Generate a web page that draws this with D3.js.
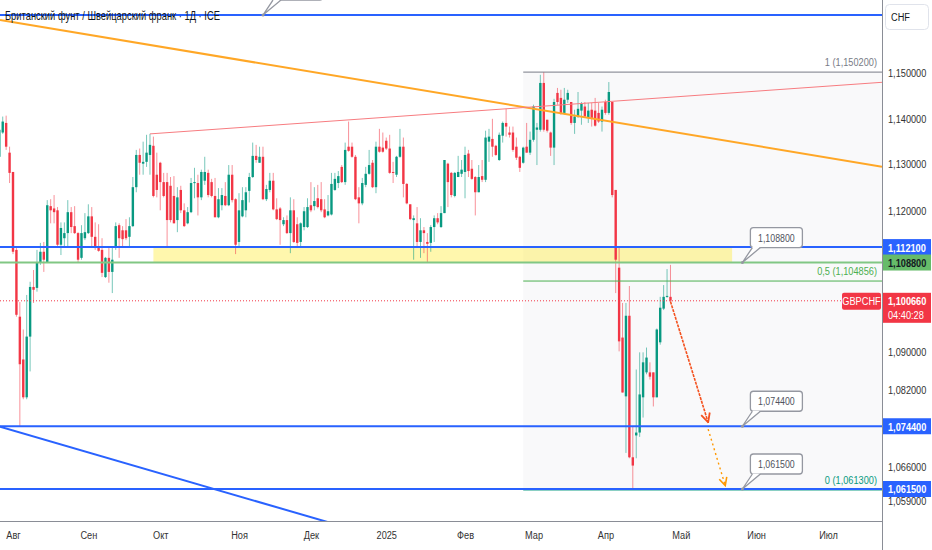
<!DOCTYPE html>
<html>
<head>
<meta charset="utf-8">
<script src="https://cdn.jsdelivr.net/npm/d3@7"></script>
<style>
  body { margin: 0; background: #fff; }
  svg { display: block; }
  text { font-family: "Liberation Sans", Arial, sans-serif; }
</style>
</head>
<body>
<div id="chart"></div>
<script>
// ---- data (GBPCHF daily) ----
const firstDay = "2024-07-26";
const opens = [
  1.1316,1.1369,1.1390,1.1325,1.1283,1.1115,1.0973,1.0883,1.0804,1.0931,
  1.1036,1.1034,1.1089,1.1111,1.1087,1.1209,1.1204,1.1200,1.1126,1.1140,
  1.1151,1.1196,1.1166,1.1151,1.1098,1.1140,1.1151,1.1187,1.1143,1.1119,
  1.1115,1.1057,1.1098,1.1068,1.1119,1.1168,1.1157,1.1157,1.1143,1.1166,
  1.1250,1.1320,1.1301,1.1305,1.1320,1.1340,1.1277,1.1303,1.1261,1.1261,
  1.1253,1.1231,1.1179,1.1244,1.1200,1.1172,1.1196,1.1259,1.1259,1.1228,
  1.1264,1.1281,1.1261,1.1231,1.1185,1.1211,1.1231,1.1211,1.1277,1.1224,
  1.1132,1.1187,1.1200,1.1242,1.1272,1.1318,1.1303,1.1316,1.1224,1.1244,
  1.1264,1.1202,1.1204,1.1170,1.1179,1.1151,1.1200,1.1170,1.1132,1.1164,
  1.1164,1.1211,1.1209,1.1226,1.1224,1.1202,1.1189,1.1191,1.1244,1.1259,
  1.1294,1.1261,1.1338,1.1338,1.1316,1.1228,1.1215,1.1255,1.1279,1.1303,
  1.1250,1.1338,1.1336,1.1351,1.1334,1.1283,1.1277,1.1316,1.1338,1.1257,
  1.1213,1.1179,1.1172,1.1132,1.1157,1.1132,1.1130,1.1164,1.1183,1.1164,
  1.1194,1.1301,1.1281,1.1231,1.1272,1.1279,1.1283,1.1323,1.1290,1.1272,
  1.1239,1.1274,1.1266,1.1349,1.1355,1.1340,1.1309,1.1362,1.1390,1.1369,
  1.1369,1.1338,1.1316,1.1303,1.1338,1.1325,1.1353,1.1375,1.1375,1.1478,
  1.1397,1.1369,1.1336,1.1456,1.1445,1.1412,1.1441,1.1436,1.1390,1.1404,
  1.1417,1.1426,1.1401,1.1419,1.1417,1.1412,1.1393,1.1436,1.1412,
  1.1436,1.1244,1.1077,1.0929,1.0806,1.0975,1.0680,1.0725,1.0731,1.0804,
  1.0856,1.0856,1.0856,1.0804,1.0919,1.0990,1.1015,1.1015
];
const highs = [
  1.1380,1.1404,1.1406,1.1338,1.1283,1.1119,1.1004,1.0946,1.1019,1.1047,
  1.1072,1.1115,1.1130,1.1132,1.1222,1.1224,1.1233,1.1207,1.1174,1.1174,
  1.1222,1.1207,1.1209,1.1153,1.1168,1.1194,1.1213,1.1207,1.1174,1.1170,
  1.1140,1.1100,1.1119,1.1121,1.1174,1.1172,1.1166,1.1181,1.1185,1.1272,
  1.1331,1.1334,1.1349,1.1364,1.1366,1.1360,1.1325,1.1305,1.1281,1.1281,
  1.1272,1.1274,1.1250,1.1253,1.1215,1.1207,1.1270,1.1292,1.1277,1.1288,
  1.1316,1.1288,1.1268,1.1270,1.1248,1.1248,1.1261,1.1298,1.1298,1.1226,
  1.1237,1.1250,1.1250,1.1281,1.1347,1.1342,1.1338,1.1338,1.1255,1.1281,
  1.1281,1.1226,1.1207,1.1185,1.1189,1.1228,1.1224,1.1185,1.1174,1.1207,
  1.1226,1.1261,1.1250,1.1255,1.1261,1.1224,1.1233,1.1281,1.1281,1.1285,
  1.1298,1.1347,1.1393,1.1347,1.1320,1.1250,1.1270,1.1294,1.1331,1.1309,
  1.1349,1.1377,1.1369,1.1358,1.1364,1.1305,1.1318,1.1377,1.1358,1.1259,
  1.1213,1.1189,1.1207,1.1183,1.1164,1.1151,1.1168,1.1189,1.1194,1.1209,
  1.1309,1.1303,1.1283,1.1283,1.1318,1.1309,1.1338,1.1331,1.1309,1.1274,
  1.1298,1.1309,1.1373,1.1377,1.1399,1.1342,1.1369,1.1393,1.1421,1.1382,
  1.1382,1.1358,1.1318,1.1338,1.1390,1.1371,1.1430,1.1390,1.1496,1.1502,
  1.1397,1.1371,1.1443,1.1467,1.1463,1.1467,1.1463,1.1436,1.1419,1.1458,
  1.1436,1.1436,1.1434,1.1434,1.1445,1.1434,1.1426,1.1441,1.1480,
  1.1436,1.1244,1.1119,1.1002,1.1002,1.1038,1.0744,1.0862,1.0898,1.0898,
  1.0908,1.0877,1.0856,1.0948,1.1015,1.1040,1.1074,1.1083
];
const lows = [
  1.1309,1.1366,1.1331,1.1259,1.1106,1.0973,1.0744,1.0800,1.0800,1.0858,
  1.1002,1.1026,1.1083,1.1068,1.1087,1.1172,1.1172,1.1121,1.1104,1.1121,
  1.1121,1.1151,1.1149,1.1087,1.1094,1.1136,1.1149,1.1119,1.1115,1.1111,
  1.1057,1.1055,1.1045,1.1023,1.1115,1.1098,1.1121,1.1136,1.1121,1.1164,
  1.1239,1.1277,1.1277,1.1294,1.1277,1.1228,1.1228,1.1200,1.1228,1.1121,
  1.1174,1.1172,1.1153,1.1194,1.1164,1.1170,1.1194,1.1226,1.1189,1.1222,
  1.1255,1.1228,1.1228,1.1185,1.1183,1.1200,1.1209,1.1209,1.1217,1.1106,
  1.1123,1.1185,1.1185,1.1217,1.1270,1.1303,1.1303,1.1222,1.1220,1.1239,
  1.1200,1.1179,1.1126,1.1166,1.1149,1.1108,1.1130,1.1119,1.1121,1.1157,
  1.1162,1.1196,1.1200,1.1204,1.1196,1.1183,1.1187,1.1189,1.1242,1.1248,
  1.1259,1.1255,1.1327,1.1314,1.1222,1.1172,1.1211,1.1250,1.1277,1.1248,
  1.1237,1.1325,1.1325,1.1331,1.1279,1.1259,1.1272,1.1314,1.1228,1.1213,
  1.1179,1.1094,1.1119,1.1098,1.1108,1.1087,1.1111,1.1132,1.1170,1.1162,
  1.1194,1.1207,1.1228,1.1228,1.1272,1.1272,1.1226,1.1272,1.1266,1.1189,
  1.1239,1.1261,1.1261,1.1305,1.1316,1.1318,1.1307,1.1347,1.1360,1.1358,
  1.1327,1.1309,1.1283,1.1301,1.1325,1.1320,1.1349,1.1298,1.1371,1.1371,
  1.1369,1.1318,1.1298,1.1430,1.1408,1.1408,1.1434,1.1386,1.1366,1.1401,
  1.1386,1.1404,1.1390,1.1382,1.1382,1.1390,1.1371,1.1408,1.1408,
  1.1228,1.1023,1.0900,1.0814,1.0689,1.0678,1.0613,1.0678,1.0722,1.0762,
  1.0852,1.0841,1.0785,1.0804,1.0914,1.0987,1.1013,1.1002
];
const closes = [
  1.1375,1.1393,1.1338,1.1281,1.1111,1.0977,1.0873,1.0804,1.0931,1.1036,
  1.1030,1.1089,1.1111,1.1094,1.1211,1.1200,1.1196,1.1126,1.1162,1.1151,
  1.1196,1.1164,1.1151,1.1094,1.1151,1.1153,1.1187,1.1143,1.1119,1.1113,
  1.1066,1.1098,1.1068,1.1094,1.1166,1.1140,1.1138,1.1140,1.1166,1.1250,
  1.1320,1.1303,1.1305,1.1325,1.1342,1.1231,1.1244,1.1261,1.1231,1.1179,
  1.1179,1.1172,1.1228,1.1200,1.1166,1.1196,1.1259,1.1261,1.1228,1.1283,
  1.1283,1.1233,1.1231,1.1185,1.1224,1.1233,1.1211,1.1277,1.1222,1.1126,
  1.1200,1.1222,1.1239,1.1272,1.1318,1.1309,1.1316,1.1224,1.1246,1.1264,
  1.1202,1.1181,1.1179,1.1179,1.1151,1.1200,1.1132,1.1130,1.1172,1.1198,
  1.1207,1.1200,1.1220,1.1207,1.1200,1.1185,1.1198,1.1257,1.1268,1.1274,
  1.1261,1.1331,1.1329,1.1316,1.1224,1.1215,1.1259,1.1279,1.1298,1.1250,
  1.1338,1.1327,1.1327,1.1334,1.1281,1.1281,1.1316,1.1338,1.1257,1.1215,
  1.1181,1.1183,1.1132,1.1157,1.1151,1.1128,1.1164,1.1183,1.1174,1.1194,
  1.1309,1.1261,1.1233,1.1281,1.1283,1.1288,1.1320,1.1285,1.1268,1.1239,
  1.1272,1.1266,1.1358,1.1360,1.1338,1.1320,1.1364,1.1390,1.1382,1.1364,
  1.1331,1.1314,1.1292,1.1336,1.1325,1.1353,1.1426,1.1380,1.1478,1.1375,
  1.1373,1.1336,1.1436,1.1436,1.1412,1.1441,1.1456,1.1390,1.1404,1.1421,
  1.1432,1.1404,1.1417,1.1401,1.1384,1.1393,1.1419,1.1412,1.1458,
  1.1233,1.1094,1.0921,1.0814,1.0975,1.0680,1.0663,1.0731,1.0810,1.0877,
  1.0887,1.0847,1.0804,1.0946,1.0992,1.1015,1.1017,1.1007
];

const monthStarts = ["2024-08-01","2024-09-02","2024-10-01","2024-11-01","2024-12-02","2025-01-01",
                     "2025-02-03","2025-03-03","2025-04-01","2025-05-01","2025-06-02","2025-07-01"];
const monthNames = ["Авг","Сен","Окт","Ноя","Дек","2025","Фев","Мар","Апр","Май","Июн","Июл"];
const priceTicks = [1.15, 1.14, 1.13, 1.12, 1.09, 1.082, 1.066, 1.059];

// horizontal levels drawn on the chart
const levelPrices = [1.1629, 1.1121, 1.1088, 1.0744, 1.0615];
const currentPrice = 1.10066;
const countdown = "04:40:28";
const zonePrices = [1.1121, 1.1088];          // yellow zone
const zoneDates = ["2024-09-27", "2025-05-22"];
const calloutDates = ["2024-11-12", "2025-05-27", "2025-05-27", "2025-05-27"];
const calloutPrices = [1.1629, 1.1088, 1.0744, 1.0615];
const fibStart = "2025-02-26";
const fibHigh = 1.1502, fibLow = 1.0613;
const fibLevels = [1, 0.5, 0];
// trend lines: [date, price] pairs
const orangeLine = [["2024-07-26", 1.1618], ["2025-07-01", 1.1314]];
const redLine = [["2024-09-26", 1.1366], ["2025-07-01", 1.1471]];
const blueDiag = [["2024-07-26", 1.07435], ["2024-12-02", 1.05576]];
const arrow1 = [["2025-04-28", 1.1005], ["2025-05-13", 1.0752]];
const arrow2 = [["2025-05-13", 1.0738], ["2025-05-20", 1.0622]];

// ---- layout ----
const W = 932, H = 550;
const plotRight = 882, plotBottom = 521;
const FONT = '"Liberation Sans", Arial, sans-serif';

const parse = d3.utcParse("%Y-%m-%d");
const base = parse("2024-08-01");

// count weekdays from base (Aug 1 2024) to a date
function wdIndex(str) {
    const d = typeof str === "string" ? parse(str) : str;
    const days = Math.round((d - base) / 864e5);
    const weeks = Math.floor(days / 7);
    let idx = weeks * 5, day = base.getUTCDay();
    for (let k = 0; k < days - weeks * 7; k++) {
        day = (day + 1) % 7;
        if (day !== 0 && day !== 6) idx++;
    }
    return idx;
}

const x = d3.scaleLinear()
    .domain([wdIndex("2024-08-01"), wdIndex("2025-07-01")])
    .range([13, 828]);
const y = d3.scaleLog()
    .domain([1.0615, 1.15])
    .range([489, 73]);

const fmt = d => d3.format(".6f")(d).replace(".", ",");

const svg = d3.select("#chart").append("svg")
    .attr("width", W).attr("height", H)
    .style("font-family", FONT);

// squeeze text horizontally around its anchor, for the narrow TradingView look
function squeeze(sel, k = 0.8) {
    sel.each(function () {
        const ax = +(this.getAttribute("x") || 0);
        d3.select(this).attr("transform", `translate(${ax * (1 - k)},0) scale(${k},1)`);
    });
}

svg.append("defs").append("clipPath").attr("id", "plot")
    .append("rect").attr("width", plotRight).attr("height", plotBottom);

const plot = svg.append("g").attr("clip-path", "url(#plot)");

// fib box background
const fx0 = x(wdIndex(fibStart));
plot.append("rect")
    .attr("x", fx0).attr("y", y(fibHigh))
    .attr("width", plotRight - fx0).attr("height", y(fibLow) - y(fibHigh))
    .attr("fill", "rgba(120,123,134,0.045)");

// yellow zone
plot.append("rect")
    .attr("x", x(wdIndex(zoneDates[0]))).attr("y", y(zonePrices[0]))
    .attr("width", x(wdIndex(zoneDates[1])) - x(wdIndex(zoneDates[0])))
    .attr("height", y(zonePrices[1]) - y(zonePrices[0]))
    .attr("fill", "rgba(255,235,59,0.42)");

// candles
const startIdx = wdIndex(firstDay);
const candles = closes.map((c, i) => ({ idx: startIdx + i, o: opens[i], h: highs[i], l: lows[i], c }));
const up = "#089981", down = "#f23645";

plot.append("g").selectAll("line").data(candles).join("line")
    .attr("x1", d => x(d.idx)).attr("x2", d => x(d.idx))
    .attr("y1", d => y(d.h)).attr("y2", d => y(d.l))
    .attr("stroke", d => d.c >= d.o ? up : down)
    .attr("stroke-opacity", 0.55)
    .attr("stroke-width", 1);

plot.append("g").selectAll("rect").data(candles).join("rect")
    .attr("x", d => x(d.idx) - 1.2)
    .attr("width", 2.4)
    .attr("y", d => y(Math.max(d.o, d.c)))
    .attr("height", d => Math.max(1, Math.abs(y(d.o) - y(d.c))))
    .attr("fill", d => d.c >= d.o ? up : down);

// helper: straight line through two [date, price] points, extended to plot edges
function extended(pts, left = true) {
    const [a, b] = pts.map(p => [x(wdIndex(p[0])), y(p[1])]);
    const k = (b[1] - a[1]) / (b[0] - a[0]);
    const x0 = left ? 0 : a[0];
    return [[x0, a[1] + k * (x0 - a[0])], [plotRight, a[1] + k * (plotRight - a[0])]];
}

plot.append("path").attr("d", d3.line()(extended(orangeLine)))
    .attr("stroke", "#ffa726").attr("stroke-width", 2).attr("fill", "none");
plot.append("path").attr("d", d3.line()(extended(redLine, false)))
    .attr("stroke", "#f77c80").attr("stroke-width", 1).attr("fill", "none");
plot.append("path").attr("d", d3.line()(extended(blueDiag)))
    .attr("stroke", "#2962ff").attr("stroke-width", 2).attr("fill", "none");

// fib lines and labels
const fibColors = ["#787b86", "#4caf50", "#089981"];
fibLevels.forEach((lv, i) => {
    const p = fibLow * Math.pow(fibHigh / fibLow, lv);
    plot.append("line")
        .attr("x1", fx0).attr("x2", plotRight)
        .attr("y1", y(p)).attr("y2", y(p))
        .attr("stroke", fibColors[i]).attr("stroke-width", 1);
    plot.append("text")
        .attr("x", 877).attr("y", y(p) - 6)
        .attr("text-anchor", "end")
        .attr("font-size", 11.5)
        .attr("fill", fibColors[i])
        .text(`${String(lv).replace(".", ",")} (${fmt(p)})`)
        .call(squeeze);
});

// horizontal levels
const levelColors = ["#2962ff", "#2962ff", "#81c784", "#2962ff", "#2962ff"];
levelPrices.forEach((p, i) => {
    plot.append("line")
        .attr("x1", 0).attr("x2", plotRight)
        .attr("y1", y(p)).attr("y2", y(p))
        .attr("stroke", levelColors[i]).attr("stroke-width", 2);
});

// current price dotted line + symbol tag
const cy = y(currentPrice);
plot.append("line")
    .attr("x1", 0).attr("x2", 842).attr("y1", cy).attr("y2", cy)
    .attr("stroke", "#f23645").attr("stroke-width", 1).attr("stroke-dasharray", "1,2");
plot.append("rect").attr("x", 842).attr("y", cy - 8).attr("width", 39).attr("height", 17)
    .attr("rx", 2).attr("fill", "#f23645");
plot.append("text").attr("x", 861.5).attr("y", cy + 4.5).attr("text-anchor", "middle")
    .attr("font-size", 11.5).attr("fill", "#fff").text("GBPCHF").call(squeeze);

// arrows
const defs = svg.select("defs");
[["a1", "#f4511e"], ["a2", "#ff9800"]].forEach(([id, c]) => {
    defs.append("marker").attr("id", id).attr("viewBox", "0 0 10 10")
        .attr("refX", 9).attr("refY", 5).attr("markerWidth", 7).attr("markerHeight", 7)
        .attr("orient", "auto")
        .append("path").attr("d", "M1,1 L9,5 L1,9").attr("fill", "none")
        .attr("stroke", c).attr("stroke-width", 1.6);
});
const toXY = pts => pts.map(p => [x(wdIndex(p[0])), y(p[1])]);
plot.append("path").attr("d", d3.line()(toXY(arrow1)))
    .attr("stroke", "#f4511e").attr("stroke-width", 1.6).attr("fill", "none")
    .attr("stroke-dasharray", "3,1").attr("marker-end", "url(#a1)");
plot.append("path").attr("d", d3.line()(toXY(arrow2)))
    .attr("stroke", "#ff9800").attr("stroke-width", 1.4).attr("fill", "none")
    .attr("stroke-dasharray", "2,3").attr("marker-end", "url(#a2)");

// callouts (the top one sits above the visible area, only its pointer shows)
calloutDates.forEach((dt, i) => {
    const ax = x(wdIndex(dt)), ay = y(calloutPrices[i]);
    const g = plot.append("g");
    g.append("rect").attr("x", ax + 8).attr("y", ay - 35).attr("width", 52).attr("height", 20)
        .attr("rx", 3).attr("fill", "#fff").attr("stroke", "#9598a1").attr("stroke-width", 1.3);
    g.append("path").attr("d", `M${ax + 10},${ay - 15.6} L${ax},${ay} L${ax + 18},${ay - 15.6} Z`)
        .attr("fill", "#fff");
    g.append("path").attr("d", `M${ax + 10},${ay - 15} L${ax},${ay} L${ax + 18},${ay - 15}`)
        .attr("fill", "none").attr("stroke", "#9598a1").attr("stroke-width", 1.3);
    g.append("circle").attr("cx", ax).attr("cy", ay).attr("r", 1.5).attr("fill", "#9598a1");
    if (ay - 35 > 0) {
        g.append("text").attr("x", ax + 34).attr("y", ay - 21)
            .attr("text-anchor", "middle").attr("font-size", 11).attr("fill", "#50535e")
            .text(fmt(calloutPrices[i])).call(squeeze);
    }
});

// title
svg.append("text").attr("x", 5).attr("y", 20)
    .attr("font-size", 12).attr("fill", "#131722")
    .text("Британский фунт / Швейцарский франк · 1Д · ICE")
    .call(squeeze, 0.78);

// axis frame
svg.append("line").attr("x1", 0).attr("x2", plotRight).attr("y1", plotBottom + 0.5).attr("y2", plotBottom + 0.5)
    .attr("stroke", "#8a8d96");
svg.append("line").attr("x1", plotRight + 0.5).attr("x2", plotRight + 0.5).attr("y1", 0).attr("y2", H)
    .attr("stroke", "#8a8d96");

// price axis
const yAxis = svg.append("g").attr("transform", `translate(${plotRight},0)`)
    .call(d3.axisRight(y).tickValues(priceTicks).tickFormat(fmt).tickSize(0).tickPadding(6));
yAxis.select(".domain").remove();
yAxis.selectAll("text").attr("font-size", 11.5).attr("fill", "#333").attr("font-family", FONT).call(squeeze);

// time axis
const xAxis = svg.append("g").attr("transform", `translate(0,${plotBottom})`)
    .call(d3.axisBottom(x).tickValues(monthStarts.map(wdIndex))
        .tickFormat((d, i) => monthNames[i]).tickSize(0).tickPadding(10));
xAxis.select(".domain").remove();
xAxis.selectAll("text").attr("font-size", 11.5).attr("fill", "#333").attr("font-family", FONT).call(squeeze);

// CHF box
svg.append("rect").attr("x", 885.5).attr("y", 4.5).attr("width", 43).attr("height", 25).attr("rx", 4)
    .attr("fill", "#fff").attr("stroke", "#e0e3eb");
svg.append("text").attr("x", 891).attr("y", 21.5).attr("font-size", 11.5).attr("fill", "#131722")
    .text("CHF").call(squeeze);

// price tags on the axis
const tagPrices = [1.1121, 1.1088, 1.0744, 1.0615];
const tagFills = ["#2962ff", "#66bb6a", "#2962ff", "#2962ff"];
const tagText = ["#fff", "#131722", "#fff", "#fff"];
tagPrices.forEach((p, i) => {
    svg.append("rect").attr("x", plotRight + 1).attr("y", y(p) - 8).attr("width", 48).attr("height", 16)
        .attr("fill", tagFills[i]);
    svg.append("text").attr("x", plotRight + 6).attr("y", y(p) + 4.5)
        .attr("font-size", 11.5).attr("font-weight", "bold").attr("fill", tagText[i])
        .text(fmt(p)).call(squeeze);
});
svg.append("rect").attr("x", plotRight + 1).attr("y", cy - 8).attr("width", 48).attr("height", 30)
    .attr("fill", "#f23645");
svg.append("text").attr("x", plotRight + 6).attr("y", cy + 4.5)
    .attr("font-size", 11.5).attr("font-weight", "bold").attr("fill", "#fff")
    .text(fmt(currentPrice)).call(squeeze);
svg.append("text").attr("x", plotRight + 6).attr("y", cy + 18)
    .attr("font-size", 11.5).attr("fill", "#fff")
    .text(countdown).call(squeeze);
</script>
</body>
</html>
